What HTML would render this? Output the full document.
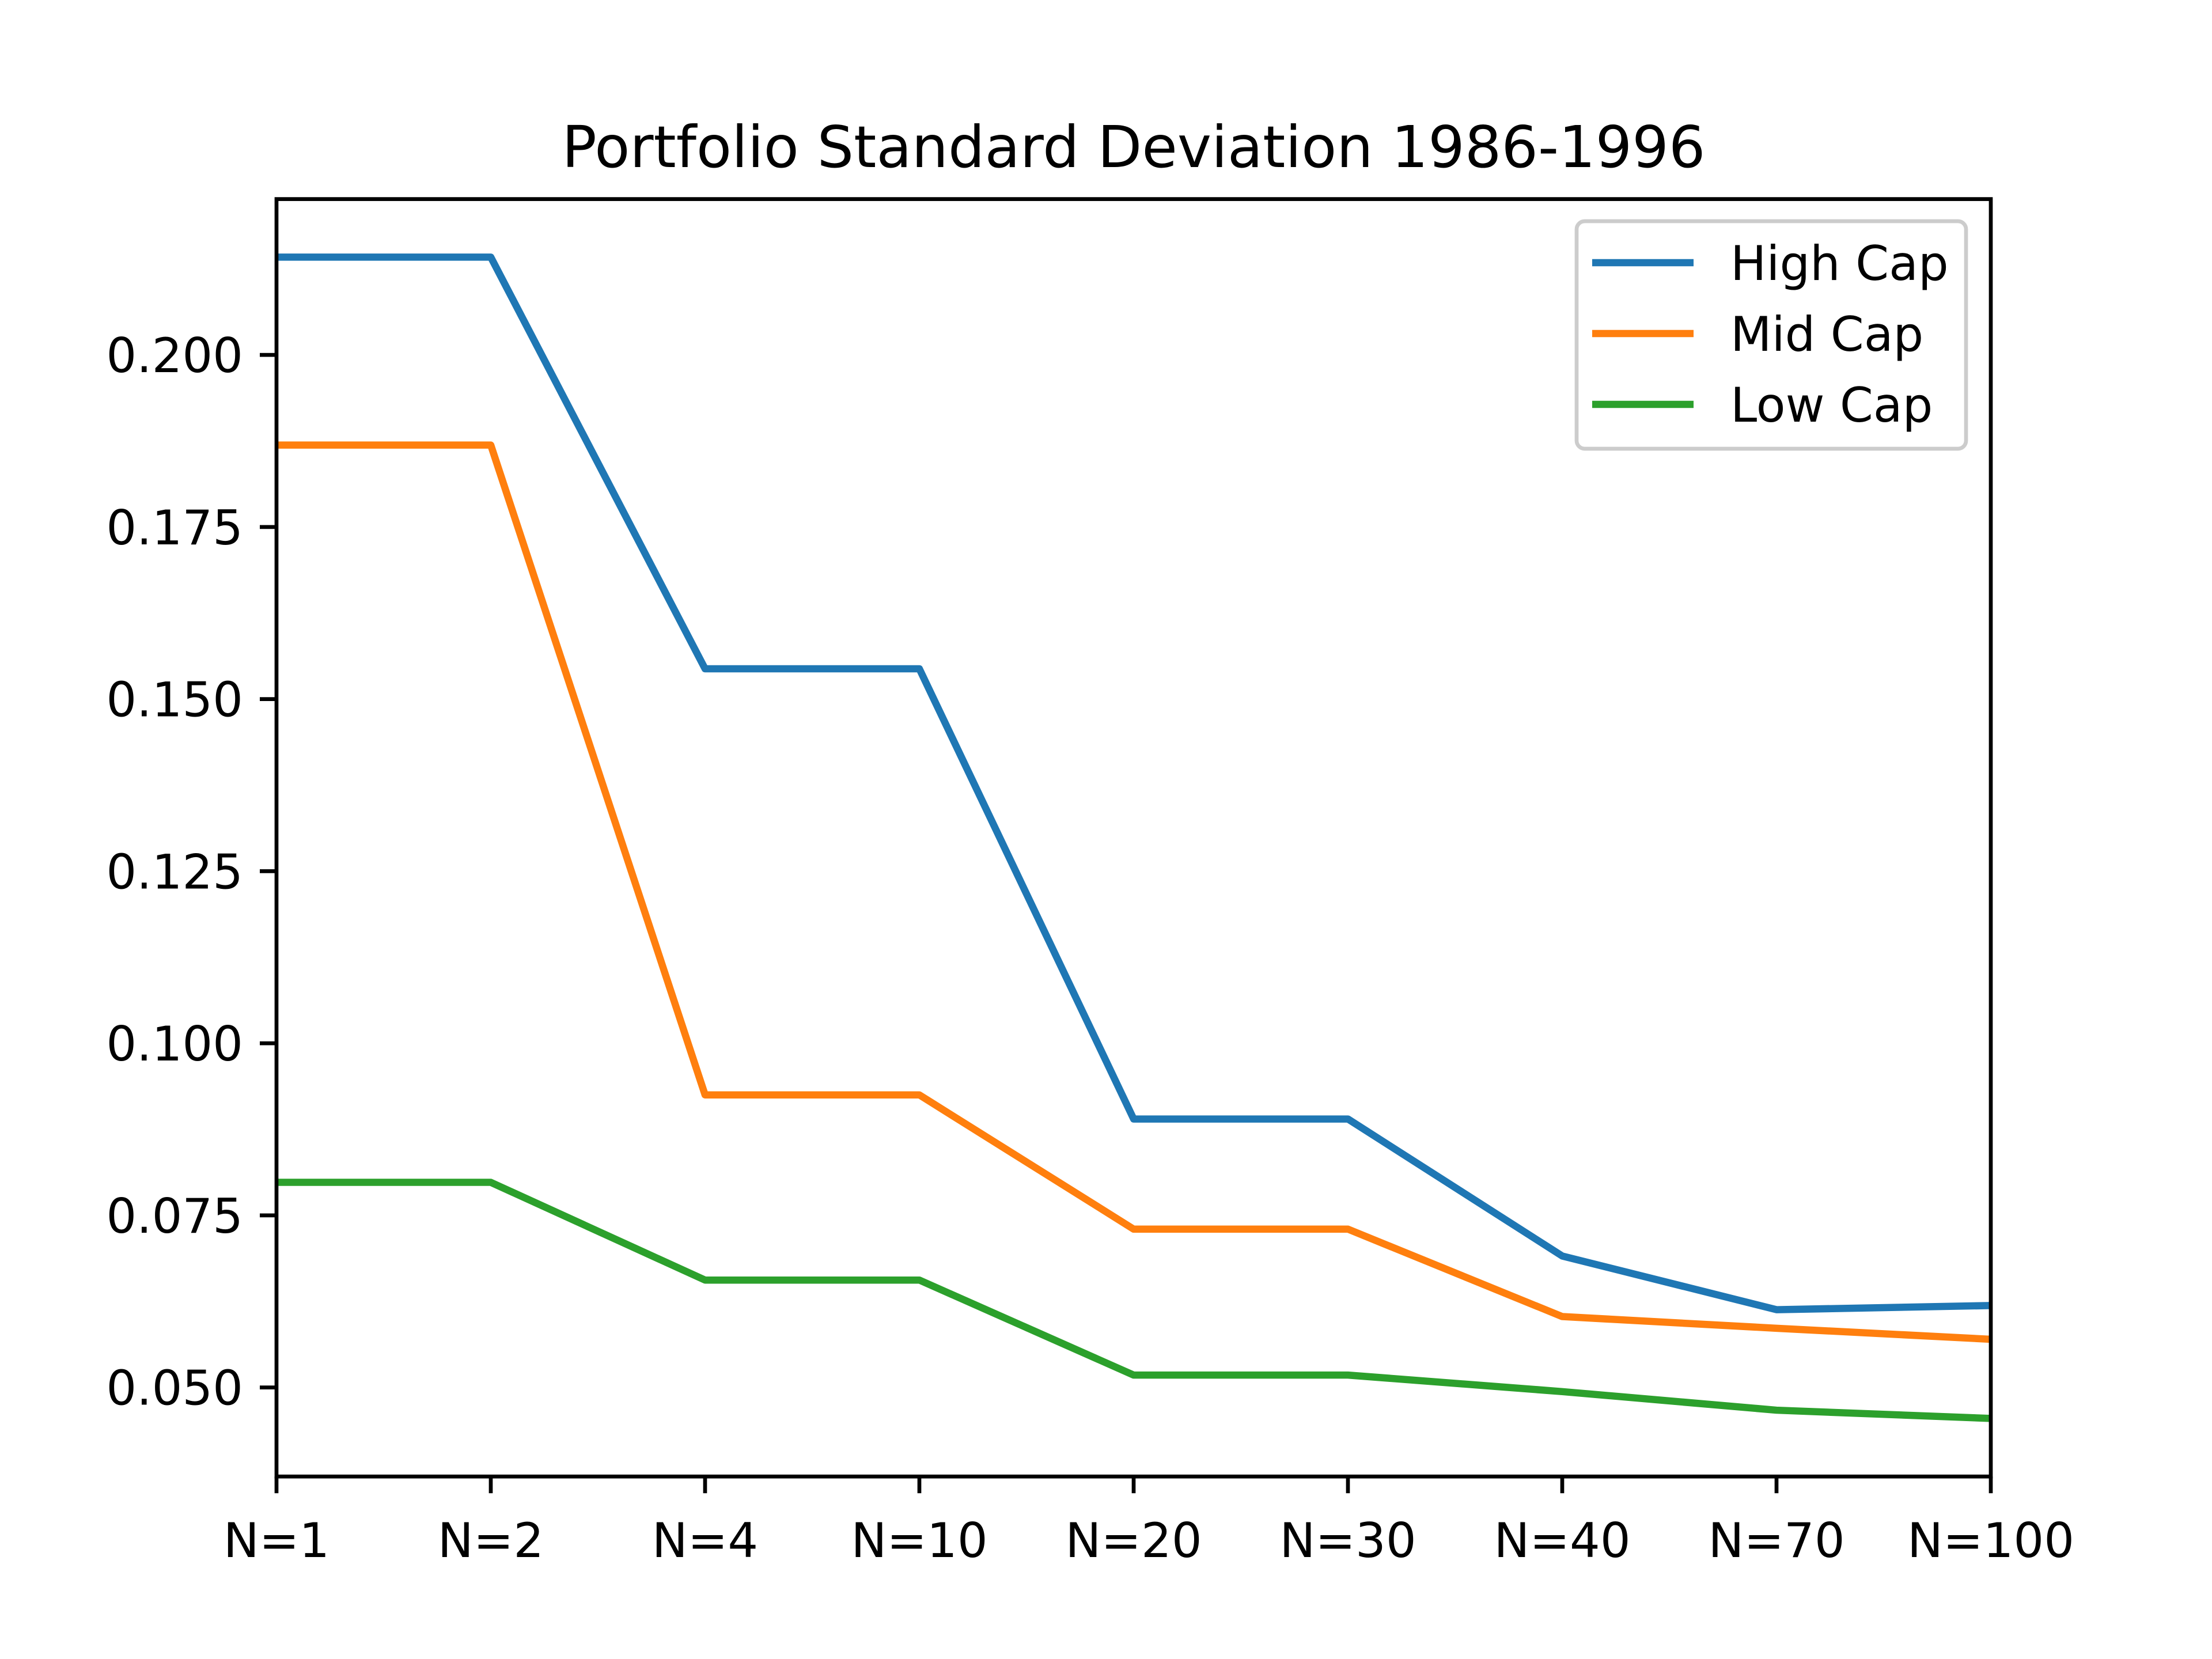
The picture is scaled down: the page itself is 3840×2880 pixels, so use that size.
<!DOCTYPE html>
<html><head><meta charset="utf-8"><style>html,body{margin:0;padding:0;background:#fff}svg{display:block}text{font-family:"DejaVu Sans","Liberation Sans",sans-serif;fill:#000}</style></head>
<body>
<svg id="chart" width="3840" height="2880" viewBox="0 0 3840 2880" xmlns="http://www.w3.org/2000/svg">
<rect width="3840" height="2880" fill="#fff"/>
<text x="1968" y="290" font-size="100" text-anchor="middle">Portfolio Standard Deviation 1986-1996</text>
<g id="plot"></g>
</svg>
<script>
const categories = ["N=1","N=2","N=4","N=10","N=20","N=30","N=40","N=70","N=100"];
const highCap = [0.2142,0.2142,0.1544,0.1544,0.0890,0.0890,0.0691,0.0613,0.0619];
const midCap = [0.1869,0.1869,0.0925,0.0925,0.0730,0.0730,0.0603,0.0586,0.0570];
const lowCap = [0.0798,0.0798,0.0656,0.0656,0.0518,0.0518,0.0494,0.0467,0.0455];
const yTicks = [0.050,0.075,0.100,0.125,0.150,0.175,0.200];
const seriesNames = ["High Cap","Mid Cap","Low Cap"];

const NS="http://www.w3.org/2000/svg";
const g=document.getElementById('plot');
const L=480,R=3456,T=345.6,B=2563.2;
const all=highCap.concat(midCap,lowCap);
const mn=Math.min(...all),mx=Math.max(...all),m=(mx-mn)*0.05;
const y0=mn-m,y1=mx+m;
const xs=i=>L+(R-L)*i/(categories.length-1);
const ys=v=>B-(v-y0)/(y1-y0)*(B-T);
function el(t,a){const e=document.createElementNS(NS,t);for(const k in a)e.setAttribute(k,a[k]);g.appendChild(e);return e;}
const colors=["#1f77b4","#ff7f0e","#2ca02c"];
[highCap,midCap,lowCap].forEach((s,k)=>{
  const p=el('polyline',{points:s.map((v,i)=>xs(i)+','+ys(v)).join(' '),fill:'none',stroke:colors[k],'stroke-width':12.5,'stroke-linejoin':'round','stroke-linecap':'butt'});
  
  
});
const fr=el('rect',{x:L,y:T,width:R-L,height:B-T,fill:'none',stroke:'#000','stroke-width':6.7});


yTicks.forEach(v=>{
  const y=ys(v);
  const t=el('line',{x1:L,x2:L-29,y1:y,y2:y,stroke:'#000','stroke-width':6.7});
  
  
  const tx=el('text',{x:L-58,y:y+30,'font-size':83,'text-anchor':'end'});
  tx.textContent=v.toFixed(3);
  
  
});
categories.forEach((c,i)=>{
  const x=xs(i);
  const t=el('line',{x1:x,x2:x,y1:B,y2:B+29,stroke:'#000','stroke-width':6.7});
  
  
  const tx=el('text',{x:x,y:B+140,'font-size':83,'text-anchor':'middle'});
  tx.textContent=c;
  
  
});
const lg=el('rect',{x:2737,y:384,width:676,height:395,rx:14,fill:'#fff','fill-opacity':0.8,stroke:'#ccc','stroke-width':6.7});


seriesNames.forEach((n,k)=>{
  const y=456+k*123;
  const ln=el('line',{x1:2764,x2:2940,y1:y,y2:y,stroke:colors[k],'stroke-width':12.5});
  
  
  const tx=el('text',{x:3004,y:y+30,'font-size':83});
  tx.textContent=n;
  
  
});
</script>
</body></html>
